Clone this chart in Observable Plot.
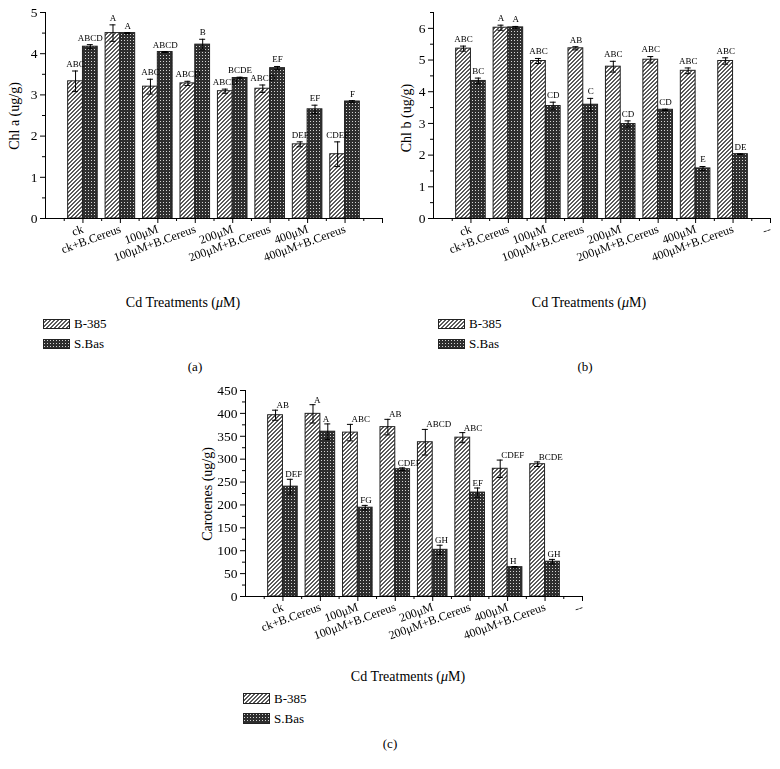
<!DOCTYPE html>
<html><head><meta charset="utf-8">
<script src="https://cdn.jsdelivr.net/npm/d3@7"></script>
<script src="https://cdn.jsdelivr.net/npm/@observablehq/plot@0.6"></script>
<style>
body{margin:0;background:#fff;}
#wrap{position:relative;width:780px;height:769px;font-family:'Liberation Serif','Times New Roman',serif;color:#000;overflow:hidden;background:#fff;}
#wrap svg text{font-family:'Liberation Serif','Times New Roman',serif;}
#wrap svg{filter:grayscale(1);}
.ytitle{position:absolute;white-space:nowrap;font-size:14px;transform:translate(-50%,-50%) rotate(-90deg);line-height:1;}
.xtitle{position:absolute;white-space:nowrap;font-size:14px;transform:translate(-50%,-50%);line-height:1;}
.cap{position:absolute;font-size:13px;transform:translate(-50%,-50%);line-height:1;}
.leg{position:absolute;font-size:13px;display:flex;align-items:center;line-height:1;}
.leg svg{margin-right:4px;}
</style></head><body>
<svg width="0" height="0" style="position:absolute">
<defs>
<pattern id="hatchB" patternUnits="userSpaceOnUse" width="4" height="4">
<rect width="4" height="4" fill="#fff"/>
<g fill="#5a5a5a" shape-rendering="crispEdges">
<rect x="0" y="3" width="1" height="1"/><rect x="1" y="2" width="1" height="1"/><rect x="2" y="1" width="1" height="1"/><rect x="3" y="0" width="1" height="1"/>
<rect x="1" y="3" width="1" height="1"/><rect x="2" y="2" width="1" height="1"/><rect x="3" y="1" width="1" height="1"/><rect x="0" y="0" width="1" height="1"/>
</g>
</pattern>
<pattern id="crossS" patternUnits="userSpaceOnUse" width="3" height="3">
<rect width="3" height="3" fill="#2e2e2e" shape-rendering="crispEdges"/>
<rect x="1" y="1" width="1" height="1" fill="#d5d5d5" shape-rendering="crispEdges"/>
</pattern>
</defs></svg>
<div id="wrap"></div>
<script>
// ---------- data ----------
const categories = ["ck","ck+B.Cereus","100μM","100μM+B.Cereus","200μM","200μM+B.Cereus","400μM","400μM+B.Cereus"];
const series = ["B-385","S.Bas"];
const xTitle = "Cd Treatments (μM)";

const chlA_B     = [3.33, 4.50, 3.20, 3.28, 3.09, 3.15, 1.80, 1.56];
const chlA_B_err = [0.25, 0.20, 0.18, 0.05, 0.05, 0.09, 0.06, 0.30];
const chlA_S     = [4.17, 4.50, 4.04, 4.22, 3.41, 3.65, 2.65, 2.84];
const chlA_S_err = [0.05, 0.01, 0.01, 0.13, 0.02, 0.04, 0.10, 0.02];
const chlA_B_lab = ["ABC","A","ABC","ABCD","ABCD","ABCD","DEF","CDEF"];
const chlA_S_lab = ["ABCD","A","ABCD","B","BCDE","EF","EF","F"];

const chlB_B     = [5.36, 6.02, 4.97, 5.37, 4.79, 5.01, 4.66, 4.97];
const chlB_B_err = [0.08, 0.08, 0.08, 0.05, 0.17, 0.10, 0.09, 0.10];
const chlB_S     = [4.34, 6.03, 3.55, 3.59, 2.98, 3.43, 1.58, 2.03];
const chlB_S_err = [0.09, 0.03, 0.12, 0.20, 0.10, 0.02, 0.06, 0.01];
const chlB_B_lab = ["ABC","A","ABC","AB","ABC","ABC","ABC","ABC"];
const chlB_S_lab = ["BC","A","CD","C","CD","CD","E","DE"];

const car_B     = [396, 399, 358, 370, 337, 347, 279, 289];
const car_B_err = [11, 20, 18, 17, 28, 11, 19, 5];
const car_S     = [240, 360, 194, 278, 102, 227, 64, 76];
const car_S_err = [16, 17, 5, 3, 10, 10, 1.5, 5];
const car_B_lab = ["AB","A","ABC","AB","ABCD","ABC","CDEF","BCDE"];
const car_S_lab = ["DEF","A","FG","CDEF","GH","EF","H","GH"];

const ticksA = [0,1,2,3,4,5];
const ticksB = [0,1,2,3,4,5,6];
const ticksC = [0,50,100,150,200,250,300,350,400,450];
const xLabelsA = [...categories, ""];
const xLabelsBC = [...categories, "--"];

// ---------- drawing ----------
const FONT = "'Liberation Serif','Times New Roman',serif";
const HALF = 0.395;
function rowsOf(vals, errs, labs, k) {
  return categories.map((c, i) => ({cat: c, s: series[k], k, pos: i + 1, v: vals[i], e: errs[i], lab: labs[i]}));
}
function panel(o) {
  const rB = rowsOf(o.B, o.Be, o.Bl, 0);
  const rS = rowsOf(o.S, o.Se, o.Sl, 1);
  const all = [...rB, ...rS];
  const ctr = d => d.pos + (d.k ? HALF / 2 : -HALF / 2);
  const yMinor = d3.range(o.yDomain[0], o.yDomain[1] + 1e-9, o.minorStep).filter(v => !o.yTicks.includes(v));
  const xMinor = d3.range(0.5, 9, 1);
  const labelMarks = o.startLabels
    ? [
        Plot.text(rB, {x: ctr, y: d => d.v + d.e, text: "lab", textAnchor: "start", dx: 1, dy: -5, fontSize: 9, fill: "#000"}),
        Plot.text(rS, {x: ctr, y: d => d.v + d.e, text: "lab", textAnchor: "start", dx: -5, dy: -5, fontSize: 9, fill: "#000"})
      ]
    : [Plot.text(all, {x: ctr, y: d => d.v + d.e, text: "lab", dy: -7, fontSize: 9, fill: "#000"})];
  return Plot.plot({
    width: 390, height: 290,
    marginLeft: o.ml, marginRight: o.mr, marginTop: 12, marginBottom: 72,
    x: {domain: [0, 9]},
    y: {domain: o.yDomain},
    style: {fontFamily: FONT, fontSize: "12px", color: "#000", background: "#fff"},
    marks: [
      Plot.rectY(rB, {x1: d => d.pos - HALF, x2: d => d.pos, y1: d => 0, y2: "v", fill: "url(#hatchB)", stroke: "#222", strokeWidth: 1}),
      Plot.rectY(rS, {x1: d => d.pos, x2: d => d.pos + HALF, y1: d => 0, y2: "v", fill: "url(#crossS)", stroke: "#222", strokeWidth: 1}),
      Plot.ruleX(all, {x: ctr, y1: d => d.v - d.e, y2: d => d.v + d.e, stroke: "#000", strokeWidth: 1}),
      Plot.ruleY(all, {y: d => d.v + d.e, x1: d => ctr(d) - 0.08, x2: d => ctr(d) + 0.08, stroke: "#000", strokeWidth: 1}),
      Plot.ruleY(all, {y: d => d.v - d.e, x1: d => ctr(d) - 0.08, x2: d => ctr(d) + 0.08, stroke: "#000", strokeWidth: 1}),
      ...labelMarks,
      Plot.ruleX([0], {stroke: "#000"}),
      Plot.ruleY([0], {stroke: "#000"}),
      Plot.axisY({ticks: o.yTicks, tickSize: 5, tickPadding: 3, fontSize: 13.5, tickFormat: d => String(d), label: null}),
      Plot.axisY({ticks: yMinor, tickSize: 3, tickFormat: () => "", label: null}),
      Plot.axisX({ticks: d3.range(1, 10), tickSize: 5, tickPadding: 5, tickRotate: -20, fontSize: 12,
                  tickFormat: t => o.xLabels[t - 1] ?? "", label: null}),
      Plot.axisX({ticks: xMinor, tickSize: 3, tickFormat: () => "", label: null})
    ]
  });
}

const wrap = document.getElementById("wrap");
function place(node, left, top) {
  node.style.position = "absolute";
  node.style.left = left + "px";
  node.style.top = top + "px";
  wrap.appendChild(node);
}
function addDiv(cls, html, x, y) {
  const d = document.createElement("div");
  d.className = cls;
  d.innerHTML = html;
  d.style.left = x + "px";
  d.style.top = y + "px";
  wrap.appendChild(d);
  return d;
}
function legend(x, y, gap, h) {
  const pats = ["url(#hatchB)", "url(#crossS)"];
  series.forEach((s, k) => {
    const d = document.createElement("div");
    d.className = "leg";
    d.style.left = x + "px";
    d.style.top = (y + k * gap) + "px";
    d.innerHTML = `<svg width="27" height="${h}"><rect x="0.5" y="0.5" width="26" height="${h - 1}" fill="${pats[k]}" stroke="#222"/></svg><span>${s}</span>`;
    wrap.appendChild(d);
  });
}

// panel (a)
place(panel({B: chlA_B, Be: chlA_B_err, Bl: chlA_B_lab, S: chlA_S, Se: chlA_S_err, Sl: chlA_S_lab,
  yDomain: [0, 5], yTicks: ticksA, minorStep: 0.5, xLabels: xLabelsA, ml: 45, mr: 8}), 0, 0);
// panel (b)
place(panel({B: chlB_B, Be: chlB_B_err, Bl: chlB_B_lab, S: chlB_S, Se: chlB_S_err, Sl: chlB_S_lab,
  yDomain: [0, 6.5], yTicks: ticksB, minorStep: 0.5, xLabels: xLabelsBC, ml: 43, mr: 10}), 390, 0);
// panel (c)
place(panel({B: car_B, Be: car_B_err, Bl: car_B_lab, S: car_S, Se: car_S_err, Sl: car_S_lab,
  yDomain: [0, 450], yTicks: ticksC, minorStep: 25, xLabels: xLabelsBC, ml: 45, mr: 8, startLabels: true}), 200, 378);

addDiv("ytitle", "Chl a (ug/g)", 15, 116);
addDiv("ytitle", "Chl b (ug/g)", 407, 118);
addDiv("ytitle", "Carotenes (ug/g)", 208, 494);
addDiv("xtitle", xTitle.replace("μ", "<i>μ</i>"), 183, 303);
addDiv("xtitle", xTitle.replace("μ", "<i>μ</i>"), 589, 303);
addDiv("xtitle", xTitle.replace("μ", "<i>μ</i>"), 408, 677);
legend(43, 317, 20, 10);
legend(438, 317, 20, 10);
legend(243, 692, 20, 11);
addDiv("cap", "(a)", 195, 366);
addDiv("cap", "(b)", 585, 366);
addDiv("cap", "(c)", 390, 743);
</script>
</body></html>
